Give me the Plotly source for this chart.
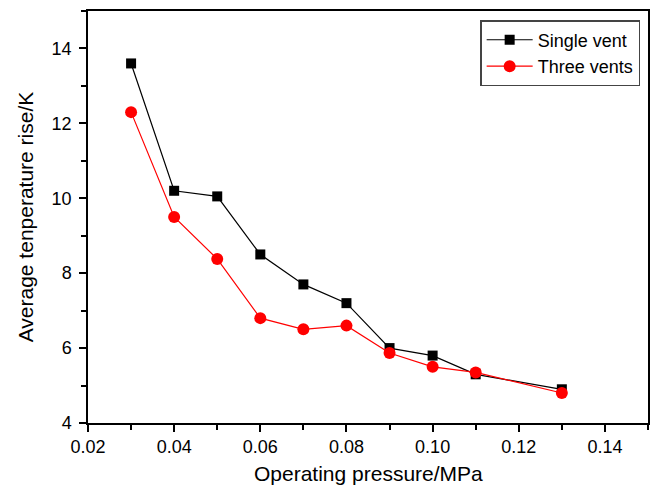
import plotly.graph_objects as go

pressure = [0.03, 0.04, 0.05, 0.06, 0.07, 0.08, 0.09, 0.10, 0.11, 0.13]
single_vent = [13.6, 10.2, 10.05, 8.5, 7.7, 7.2, 6.0, 5.8, 5.3, 4.9]
three_vents = [12.3, 9.5, 8.38, 6.8, 6.5, 6.6, 5.87, 5.5, 5.35, 4.8]

FONT = "Liberation Sans, Arial"

fig = go.Figure()
fig.add_trace(go.Scatter(x=pressure, y=single_vent, name="Single vent", mode="lines+markers",
                         line=dict(color="black", width=1.2),
                         marker=dict(symbol="square", size=10, color="black")))
fig.add_trace(go.Scatter(x=pressure, y=three_vents, name="Three vents", mode="lines+markers",
                         line=dict(color="red", width=1.2),
                         marker=dict(symbol="circle", size=12, color="red")))

axis_common = dict(showgrid=False, zeroline=False, showline=True, linecolor="black", linewidth=1.5,
                   mirror=True, ticks="outside", ticklen=7, tickwidth=1.5, tickcolor="black",
                   automargin=False,
                   tickfont=dict(family=FONT, size=18, color="black"))

fig.update_xaxes(range=[0.02, 0.15], tickvals=[0.02, 0.04, 0.06, 0.08, 0.10, 0.12, 0.14],
                 ticktext=["0.02", "0.04", "0.06", "0.08", "0.10", "0.12", "0.14"],
                 ticklabelstandoff=0,
                 minor=dict(ticks="outside", ticklen=5, tickwidth=1.5, tickcolor="black", dtick=0.01, tick0=0.02),
                 **axis_common)
fig.update_yaxes(range=[4, 15], tickvals=[4, 6, 8, 10, 12, 14], ticklabelstandoff=4,
                 minor=dict(ticks="outside", ticklen=5, tickwidth=1.5, tickcolor="black", dtick=1, tick0=4),
                 title=dict(text="Average tenperature rise/K", font=dict(family=FONT, size=21, color="black"), standoff=12),
                 **axis_common)

fig.add_annotation(text="Operating pressure/MPa", xref="paper", yref="paper", x=0.5, y=-0.123,
                   xanchor="center", yanchor="middle", showarrow=False,
                   font=dict(family=FONT, size=21, color="black"))

fig.update_layout(width=656, height=487, plot_bgcolor="white", paper_bgcolor="white",
                  margin=dict(l=88, r=8, t=11, b=64),
                  legend=dict(x=0.986, y=0.978, xanchor="right", yanchor="top",
                              bordercolor="#444", borderwidth=1.5, bgcolor="white",
                              font=dict(family=FONT, size=18, color="black"),
                              tracegroupgap=0, itemwidth=46))

fig.write_html("out.html")
